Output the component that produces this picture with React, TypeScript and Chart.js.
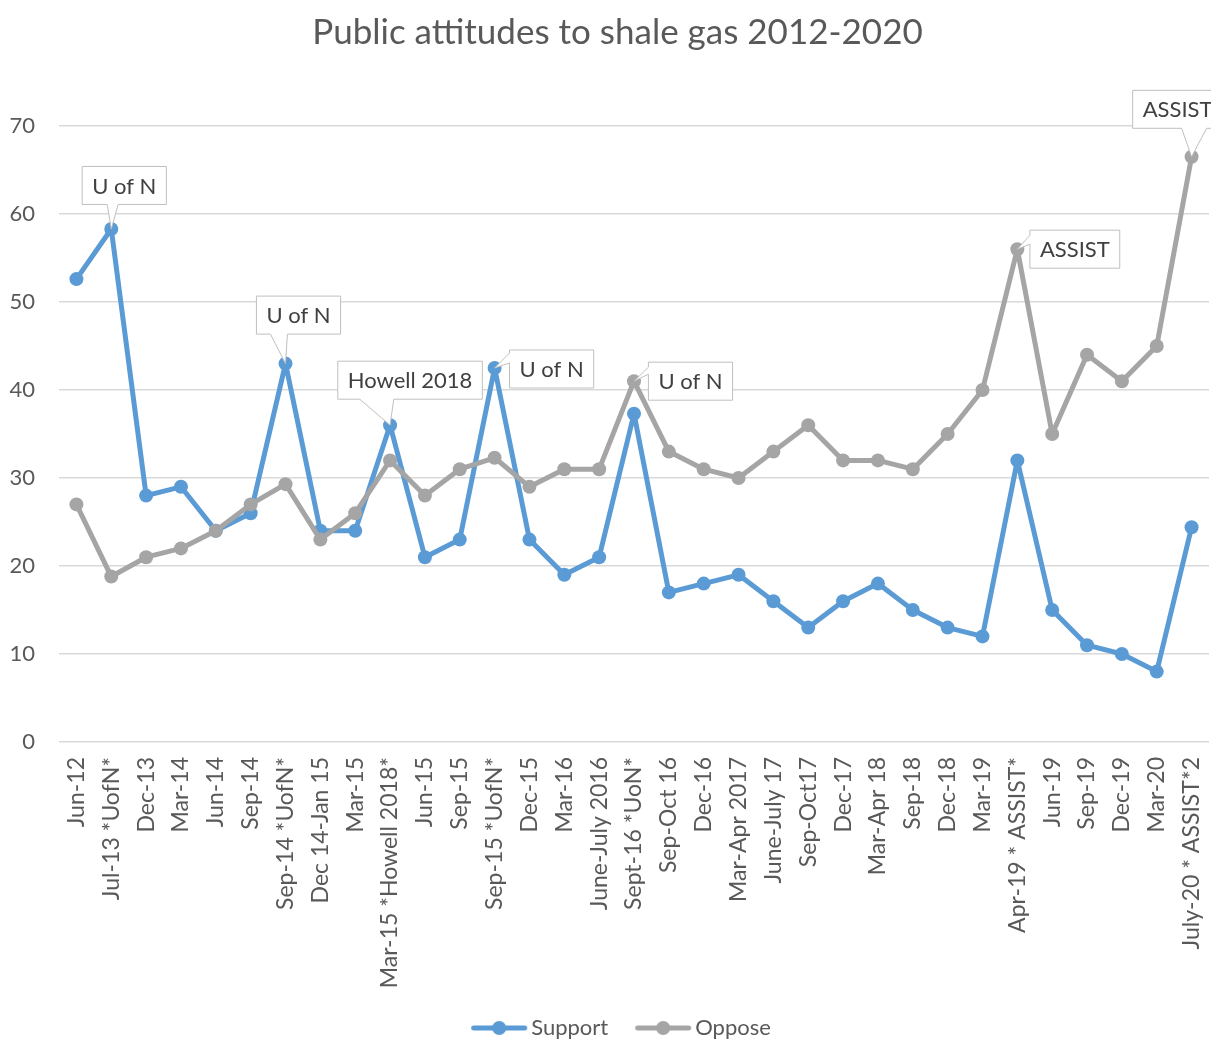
import React, { useEffect, useRef } from "react";
import { Chart, registerables } from "chart.js";

Chart.register(...registerables);

const TITLE = "Public attitudes to shale gas 2012-2020";

const categories = [
  "Jun-12", "Jul-13 *UofN*", "Dec-13", "Mar-14", "Jun-14", "Sep-14",
  "Sep-14 *UofN*", "Dec 14-Jan 15", "Mar-15", "Mar-15 *Howell 2018*",
  "Jun-15", "Sep-15", "Sep-15 *UofN*", "Dec-15", "Mar-16", "June-July 2016",
  "Sept-16 *UoN*", "Sep-Oct 16", "Dec-16", "Mar-Apr 2017", "June-July 17",
  "Sep-Oct17", "Dec-17", "Mar-Apr 18", "Sep-18", "Dec-18", "Mar-19",
  "Apr-19 * ASSIST*", "Jun-19", "Sep-19", "Dec-19", "Mar-20", "July-20 * ASSIST*2",
];

const supportValues = [
  52.6, 58.3, 28, 29, 24, 26, 43, 24, 24, 36, 21, 23, 42.5, 23, 19, 21, 37.3,
  17, 18, 19, 16, 13, 16, 18, 15, 13, 12, 32, 15, 11, 10, 8, 24.4,
];

const opposeValues = [
  27, 18.8, 21, 22, 24, 27, 29.3, 23, 26, 32, 28, 31, 32.3, 29, 31, 31, 41,
  33, 31, 30, 33, 36, 32, 32, 31, 35, 40, 56, 35, 44, 41, 45, 66.5,
];

const seriesNames = ["Support", "Oppose"];

const yTickValues = [0, 10, 20, 30, 40, 50, 60, 70];

// callout texts attached to data points: series index, point index, text
const calloutSeries = [0, 0, 0, 0, 1, 1, 1];
const calloutPoints = [1, 6, 9, 12, 16, 27, 32];
const calloutTexts = ["U of N", "U of N", "Howell 2018", "U of N", "U of N", "ASSIST", "ASSIST"];

// styling: callout box placement relative to its point
const calloutLayout = [
  { dx: 13, dy: -43.5, side: "bottom", b1: 25, b2: 36 },
  { dx: 13, dy: -48.5, side: "bottom", b1: 14, b2: 31 },
  { dx: 20, dy: -45, side: "bottom", b1: 22, b2: 56 },
  { dx: 57, dy: 1, side: "left", b1: 3, b2: 13 },
  { dx: 56.5, dy: 0, side: "left", b1: 5, b2: 12 },
  { dx: 57.5, dy: 0, side: "left", b1: 5, b2: 14 },
  { dx: -14, dy: -47.5, side: "bottom", b1: 49, b2: 74 },
];

const FONT = "Lato, 'Open Sans', sans-serif";
const BLUE = "#5B9BD5";
const GRAY = "#A5A5A5";
const TEXT = "#595959";

// legend marker: line with a dot, placed in the right part of a wider image
function makeLegendImage(color: string) {
  const c = document.createElement("canvas");
  c.width = 84;
  c.height = 16;
  const ctx = c.getContext("2d")!;
  ctx.strokeStyle = color;
  ctx.lineWidth = 5;
  ctx.lineCap = "round";
  ctx.beginPath();
  ctx.moveTo(28.5, 8);
  ctx.lineTo(79.5, 8);
  ctx.stroke();
  ctx.fillStyle = color;
  ctx.beginPath();
  ctx.arc(54, 8, 7, 0, Math.PI * 2);
  ctx.fill();
  return c;
}

const shiftPlugin = {
  id: "shiftBoxes",
  afterLayout(chart: any) {
    if (chart.titleBlock) {
      chart.titleBlock.left += 26;
    }
    if (chart.legend) {
      chart.legend.left += 8;
      chart.legend.right += 8;
    }
  },
};

const calloutPlugin = {
  id: "callouts",
  afterDatasetsDraw(chart: any) {
    const ctx = chart.ctx;
    ctx.save();
    ctx.font = `22px ${FONT}`;
    for (let i = 0; i < calloutTexts.length; i++) {
      const meta = chart.getDatasetMeta(calloutSeries[i]);
      const el = meta.data[calloutPoints[i]];
      if (!el) continue;
      const px = el.x;
      const py = el.y;
      const lay = calloutLayout[i];
      const text = calloutTexts[i];
      const tw = ctx.measureText(text).width;
      const w = tw + 20;
      const h = 38;
      const cx = px + lay.dx;
      const cy = py + lay.dy;
      const l = cx - w / 2;
      const t = cy - h / 2;
      const r = l + w;
      const b = t + h;
      ctx.beginPath();
      if (lay.side === "bottom") {
        ctx.moveTo(l, t);
        ctx.lineTo(r, t);
        ctx.lineTo(r, b);
        ctx.lineTo(l + lay.b2, b);
        ctx.lineTo(px, py);
        ctx.lineTo(l + lay.b1, b);
        ctx.lineTo(l, b);
        ctx.closePath();
      } else {
        ctx.moveTo(l, t);
        ctx.lineTo(r, t);
        ctx.lineTo(r, b);
        ctx.lineTo(l, b);
        ctx.lineTo(l, t + lay.b2);
        ctx.lineTo(px, py);
        ctx.lineTo(l, t + lay.b1);
        ctx.closePath();
      }
      ctx.fillStyle = "#FFFFFF";
      ctx.fill();
      ctx.strokeStyle = "#BFBFBF";
      ctx.lineWidth = 1;
      ctx.stroke();
      ctx.fillStyle = "#404040";
      ctx.textAlign = "center";
      ctx.textBaseline = "middle";
      ctx.fillText(text, cx, cy + 1);
    }
    ctx.restore();
  },
};

export default function App() {
  const ref = useRef<HTMLCanvasElement | null>(null);

  useEffect(() => {
    if (!ref.current) return;
    const colors = [BLUE, GRAY];
    const images = colors.map((c) => makeLegendImage(c));
    const lineStyle = (color: string) => ({
      borderColor: color,
      backgroundColor: color,
      borderWidth: 5,
      borderJoinStyle: "round" as const,
      borderCapStyle: "round" as const,
      pointRadius: 7,
      pointBorderWidth: 0,
      pointBackgroundColor: color,
      tension: 0,
    });
    const chart = new Chart(ref.current, {
      type: "line",
      data: {
        labels: categories,
        datasets: [
          { label: seriesNames[0], data: supportValues, ...lineStyle(BLUE), order: 1 },
          { label: seriesNames[1], data: opposeValues, ...lineStyle(GRAY), order: 0 },
        ],
      },
      options: {
        responsive: false,
        animation: false,
        layout: { autoPadding: false, padding: { left: 0, right: 2, top: 0, bottom: 0 } },
        plugins: {
          title: {
            display: true,
            text: TITLE,
            color: TEXT,
            font: { family: FONT, size: 35, weight: "normal" },
            padding: { top: 12, bottom: 72 },
          },
          legend: {
            position: "bottom",
            labels: {
              usePointStyle: true,
              pointStyleWidth: 66,
              color: TEXT,
              font: { family: FONT, size: 22 },
              padding: 10,
              generateLabels: () =>
                seriesNames.map((name, i) => ({
                  text: name,
                  fillStyle: colors[i],
                  strokeStyle: colors[i],
                  lineWidth: 0,
                  pointStyle: images[i],
                  hidden: false,
                  datasetIndex: i,
                  fontColor: TEXT,
                })),
            },
          },
          tooltip: { enabled: false },
        },
        scales: {
          x: {
            offset: true,
            grid: { display: false, drawTicks: false },
            border: { display: false },
            ticks: {
              autoSkip: false,
              minRotation: 90,
              maxRotation: 90,
              padding: 15,
              color: TEXT,
              font: { family: FONT, size: 23 },
            },
            afterFit: (scale: any) => {
              scale.height = 265;
              scale.paddingLeft = 0;
              scale.paddingRight = 0;
            },
          },
          y: {
            min: 0,
            max: 70,
            afterBuildTicks: (scale: any) => {
              scale.ticks = yTickValues.map((v) => ({ value: v }));
            },
            grid: { color: "#D9D9D9", lineWidth: 1.5, drawTicks: false },
            border: { display: false },
            ticks: {
              padding: 24,
              color: TEXT,
              font: { family: FONT, size: 22 },
            },
            afterFit: (scale: any) => {
              scale.width = 59;
            },
          },
        },
      },
      plugins: [shiftPlugin, calloutPlugin],
    });
    return () => chart.destroy();
  }, []);

  return (
    <div
      style={{
        position: "fixed",
        left: 0,
        top: 0,
        width: 1211,
        height: 1043,
        overflow: "hidden",
        background: "#FFFFFF",
      }}
    >
      <canvas ref={ref} width={1211} height={1049} style={{ display: "block" }} />
    </div>
  );
}
